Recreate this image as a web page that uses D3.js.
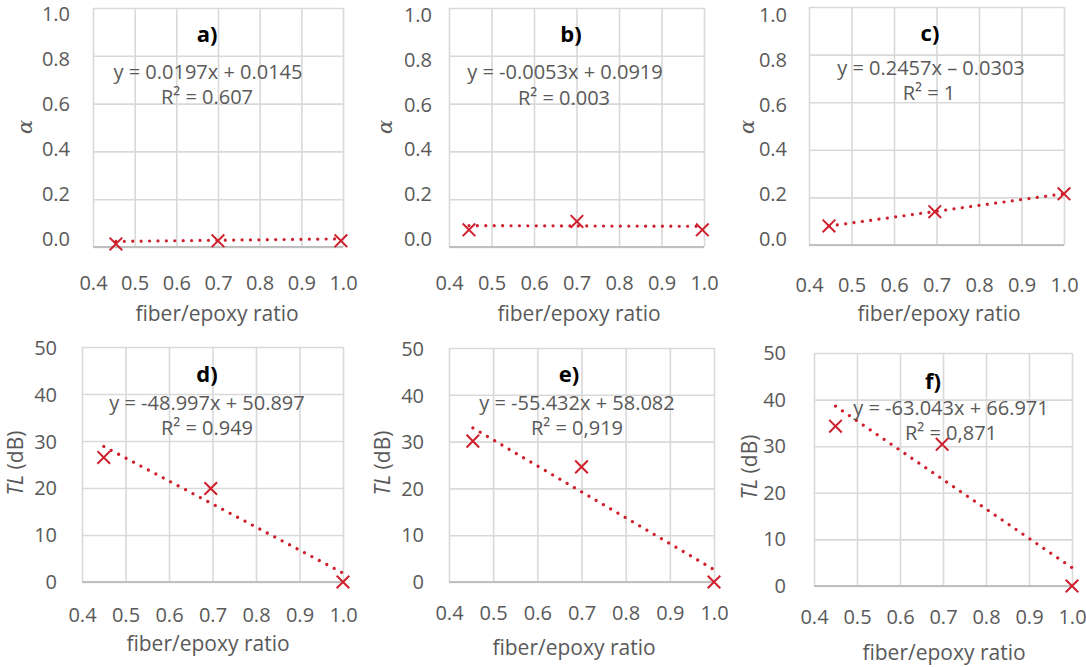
<!DOCTYPE html>
<html>
<head>
<meta charset="utf-8">
<script src="https://cdn.jsdelivr.net/npm/d3@7"></script>
<style>
  html, body { margin: 0; padding: 0; background: #ffffff; }
  svg { display: block; font-family: "Open Sans", "DejaVu Sans", sans-serif; }
</style>
</head>
<body>
<svg id="chart" width="1086" height="667"></svg>
<script>
// ---------------- data ----------------
const panelLabels = ["a)", "b)", "c)", "d)", "e)", "f)"];
const xTicks = [0.4, 0.5, 0.6, 0.7, 0.8, 0.9, 1.0];
const alphaTicks = [0.0, 0.2, 0.4, 0.6, 0.8, 1.0];
const tlTicks = [0, 10, 20, 30, 40, 50];
const xValuesA = [0.455, 0.700, 0.995];
const yValuesA = [0.013, 0.026, 0.026];
const xValuesB = [0.447, 0.701, 0.996];
const yValuesB = [0.072, 0.107, 0.072];
const xValuesC = [0.447, 0.696, 1.000];
const yValuesC = [0.080, 0.140, 0.215];
const xValuesD = [0.450, 0.696, 1.000];
const yValuesD = [26.5, 19.9, 0.0];
const xValuesE = [0.454, 0.700, 1.000];
const yValuesE = [30.1, 24.6, 0.0];
const xValuesF = [0.450, 0.698, 1.000];
const yValuesF = [34.3, 30.4, 0.0];
const slopes = [0.0197, -0.0053, 0.2457, -48.997, -55.432, -63.043];
const intercepts = [0.0145, 0.0919, -0.0303, 50.897, 58.082, 66.971];
const equations = ["y = 0.0197x + 0.0145", "y = -0.0053x + 0.0919", "y = 0.2457x \u2013 0.0303",
                   "y = -48.997x + 50.897", "y = -55.432x + 58.082", "y = -63.043x + 66.971"];
const r2Labels = ["R\u00B2 = 0.607", "R\u00B2 = 0.003", "R\u00B2 = 1",
                  "R\u00B2 = 0.949", "R\u00B2 = 0,919", "R\u00B2 = 0,871"];
const xTitle = "fiber/epoxy ratio";

const xSeries = [xValuesA, xValuesB, xValuesC, xValuesD, xValuesE, xValuesF];
const ySeries = [yValuesA, yValuesB, yValuesC, yValuesD, yValuesE, yValuesF];

// ---------------- layout (pixels) ----------------
// labT/labB: pixel span of the y tick labels (the reference's labels are not exactly on the gridlines)
const layout = [
  {l: 93,  r: 343,  t: 8,   b: 247, labT: 14,  labB: 239, yPad: 23, xLab: 283, title: [207, 33],  eq: [208, 71],  r2: [207, 96],  yt: [25, 127],  xt: [217, 313], kind: "alpha"},
  {l: 449, r: 704,  t: 8,   b: 247, labT: 15,  labB: 239, yPad: 17, xLab: 283, title: [571, 33],  eq: [565, 71],  r2: [564, 97],  yt: [385, 127], xt: [579, 313], kind: "alpha"},
  {l: 809, r: 1064, t: 7,   b: 245, labT: 15,  labB: 239, yPad: 22, xLab: 285, title: [930, 32],  eq: [931, 67],  r2: [929, 92],  yt: [747, 127], xt: [939, 313], kind: "alpha"},
  {l: 82,  r: 343,  t: 347, b: 582, labT: 348, labB: 582, yPad: 25, xLab: 615, title: [207, 373], eq: [207, 402], r2: [207, 427], yt: [15, 463],  xt: [208, 643], kind: "tl"},
  {l: 449, r: 714,  t: 348, b: 582, labT: 349, labB: 582, yPad: 25, xLab: 613, title: [569, 373], eq: [577, 402], r2: [577, 427], yt: [382, 463], xt: [574, 647], kind: "tl"},
  {l: 814, r: 1072, t: 353, b: 586, labT: 353, labB: 586, yPad: 28, xLab: 617, title: [933, 380], eq: [951, 407], r2: [951, 432], yt: [749, 467], xt: [944, 652], kind: "tl"}
];

const red = "#cf1f2c";
const textGray = "#595959";
const gridGray = "#d9d9d9";

const svg = d3.select("#chart");

layout.forEach((L, i) => {
  const yTicks = L.kind === "alpha" ? alphaTicks : tlTicks;
  const yDomain = [yTicks[0], yTicks[yTicks.length - 1]];
  const x = d3.scaleLinear().domain([xTicks[0], xTicks[xTicks.length - 1]]).range([L.l, L.r]);
  const y = d3.scaleLinear().domain(yDomain).range([L.b, L.t]);
  const yLab = d3.scaleLinear().domain(yDomain).range([L.labB, L.labT]);
  const g = svg.append("g");

  // vertical gridlines
  g.append("g")
    .attr("transform", `translate(0,${L.b})`)
    .call(d3.axisBottom(x).tickValues(xTicks).tickSize(-(L.b - L.t)).tickFormat(""))
    .call(s => s.select(".domain").remove())
    .call(s => s.selectAll("line").attr("stroke", gridGray).attr("stroke-width", 1.6));

  // horizontal gridlines
  g.append("g")
    .attr("transform", `translate(${L.l},0)`)
    .call(d3.axisLeft(y).tickValues(yTicks).tickSize(-(L.r - L.l)).tickFormat(""))
    .call(s => s.select(".domain").remove())
    .call(s => s.selectAll("line").attr("stroke", gridGray).attr("stroke-width", 1.6));

  // bottom axis line
  g.append("line")
    .attr("x1", L.l).attr("x2", L.r).attr("y1", L.b).attr("y2", L.b)
    .attr("stroke", "#bfbfbf").attr("stroke-width", 1.8);

  // x tick labels
  g.append("g")
    .attr("transform", `translate(0,${L.b})`)
    .call(d3.axisBottom(x).tickValues(xTicks).tickSize(0).tickPadding(L.xLab - L.b - 7).tickFormat(d3.format(".1f")))
    .call(s => s.select(".domain").remove())
    .call(s => s.selectAll("text").attr("fill", textGray).style("font-size", "20px").style("font-family", "'Open Sans', sans-serif"));

  // y tick labels
  g.append("g")
    .attr("transform", `translate(${L.l},0)`)
    .call(d3.axisLeft(yLab).tickValues(yTicks).tickSize(0).tickPadding(L.yPad)
      .tickFormat(L.kind === "alpha" ? d3.format(".1f") : d3.format("d")))
    .call(s => s.select(".domain").remove())
    .call(s => s.selectAll("text").attr("fill", textGray).style("font-size", "20px").style("font-family", "'Open Sans', sans-serif"));

  // trendline (dotted)
  const xs = xSeries[i];
  const ys = ySeries[i];
  const x0 = d3.min(xs), x1 = d3.max(xs);
  const trend = [x0, x1].map(v => [v, slopes[i] * v + intercepts[i]]);
  g.append("path")
    .datum(trend)
    .attr("d", d3.line().x(d => x(d[0])).y(d => y(d[1])))
    .attr("fill", "none")
    .attr("stroke", red)
    .attr("stroke-width", 3.2)
    .attr("stroke-linecap", "round")
    .attr("stroke-dasharray", "0.01 8.4");

  // X markers
  const s = 6.3;
  const pts = xs.map((v, k) => [v, ys[k]]);
  g.append("g").selectAll("path")
    .data(pts)
    .join("path")
    .attr("transform", d => `translate(${x(d[0])},${y(d[1])})`)
    .attr("d", `M${-s},${-s}L${s},${s}M${-s},${s}L${s},${-s}`)
    .attr("stroke", red)
    .attr("stroke-width", 2)
    .attr("fill", "none");

  // panel label
  g.append("text")
    .attr("x", L.title[0]).attr("y", L.title[1])
    .attr("text-anchor", "middle").attr("dominant-baseline", "central")
    .style("font-size", "22px").style("font-weight", "bold").attr("fill", "#000")
    .text(panelLabels[i]);

  // equation & R2
  g.append("text")
    .attr("x", L.eq[0]).attr("y", L.eq[1])
    .attr("text-anchor", "middle").attr("dominant-baseline", "central")
    .style("font-size", "20px").attr("fill", textGray)
    .text(equations[i]);
  g.append("text")
    .attr("x", L.r2[0]).attr("y", L.r2[1])
    .attr("text-anchor", "middle").attr("dominant-baseline", "central")
    .style("font-size", "20px").attr("fill", textGray)
    .text(r2Labels[i]);

  // axis titles
  g.append("text")
    .attr("x", L.xt[0]).attr("y", L.xt[1])
    .attr("text-anchor", "middle").attr("dominant-baseline", "central")
    .style("font-size", "21px").attr("fill", textGray)
    .text(xTitle);

  const yt = g.append("text")
    .attr("transform", `translate(${L.yt[0]},${L.yt[1]}) rotate(-90)`)
    .attr("text-anchor", "middle").attr("dominant-baseline", "central")
    .style("font-size", "21px").attr("fill", textGray);
  if (L.kind === "alpha") {
    yt.append("tspan").style("font-style", "italic").style("font-family", "'DejaVu Serif', serif").text("\u03B1");
  } else {
    yt.append("tspan").style("font-style", "italic").text("TL");
    yt.append("tspan").text(" (dB)");
  }
});
</script>
</body>
</html>
